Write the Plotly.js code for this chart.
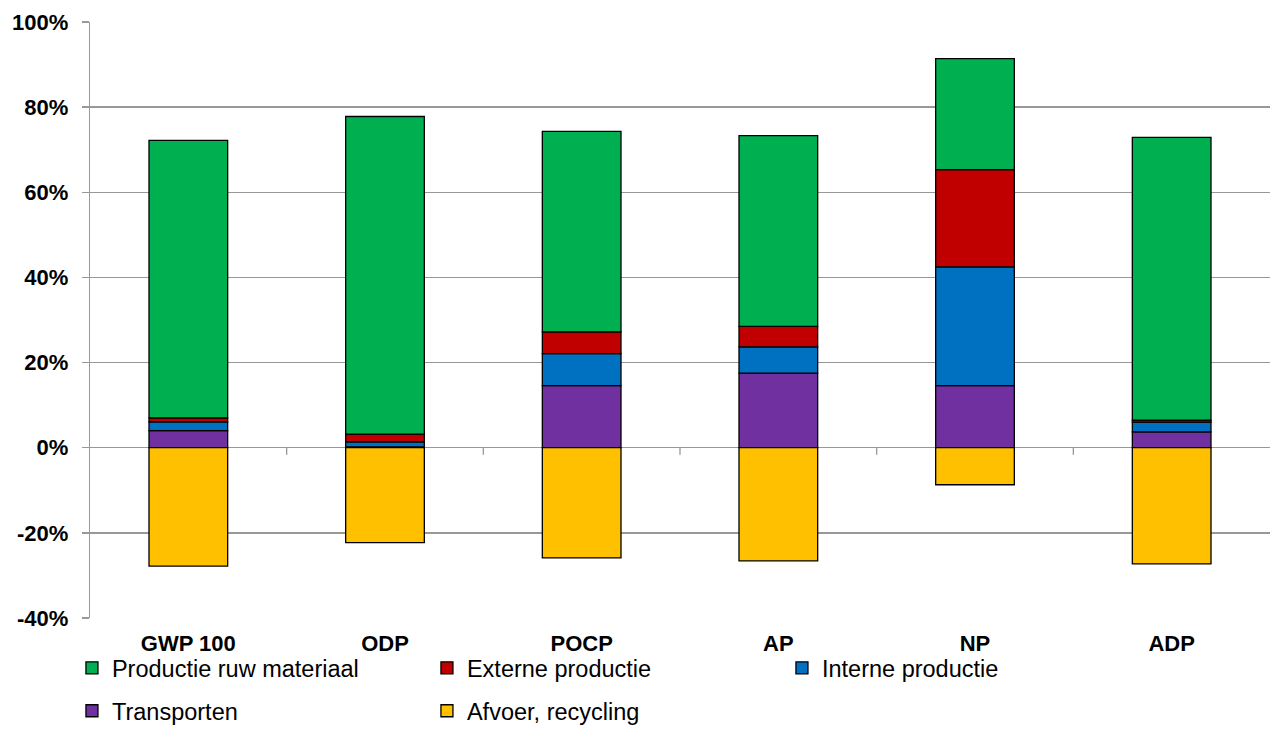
<!DOCTYPE html>
<html>
<head>
<meta charset="utf-8">
<script src="https://cdn.plot.ly/plotly-3.0.1.min.js"></script>
<style>html,body{margin:0;padding:0;background:#fff;}#chart{width:1270px;height:751px;}</style>
</head>
<body>
<div id="chart"></div>
<script>
const categories = ["GWP 100", "ODP", "POCP", "AP", "NP", "ADP"];
const transporten = [4.0, 0.2, 14.6, 17.5, 14.6, 3.7];
const interneProductie = [2.1, 1.2, 7.5, 6.2, 27.9, 2.3];
const externeProductie = [0.9, 1.8, 5.1, 4.8, 22.8, 0.5];
const productieRuwMateriaal = [65.2, 74.6, 47.1, 44.8, 26.1, 66.4];
const afvoerRecycling = [-27.8, -22.3, -25.9, -26.6, -8.7, -27.3];
const yTickVals = [-40, -20, 0, 20, 40, 60, 80, 100];
const yTickText = ["-40%", "-20%", "0%", "20%", "40%", "60%", "80%", "100%"];

const line = {color: "#000000", width: 1.3};
function bar(name, y, color, legend) {
  return {type: "bar", name: name, x: categories, y: y, legend: legend,
    marker: {color: color, line: line}, hovertemplate: "%{y}%<extra>" + name + "</extra>"};
}
const traces = [
  bar("Transporten", transporten, "#7030A0", "legend2"),
  bar("Interne productie", interneProductie, "#0070C0", "legend"),
  bar("Externe productie", externeProductie, "#C00000", "legend"),
  bar("Productie ruw materiaal", productieRuwMateriaal, "#00B050", "legend"),
  bar("Afvoer, recycling", afvoerRecycling, "#FFC000", "legend2")
];

const shapes = [];
for (let i = 0; i < categories.length - 1; i++) {
  shapes.push({type: "line", xref: "x", yref: "y", x0: i + 0.5, x1: i + 0.5,
    ysizemode: "pixel", yanchor: 0, y0: 0, y1: -7,
    line: {color: "#989898", width: 1.3}});
}

const FAM = "Liberation Sans, Arial, sans-serif";
const legendFont = {family: FAM, size: 23.5, color: "#000"};
const layout = {
  width: 1270, height: 751,
  margin: {l: 90, r: 0, t: 22, b: 133},
  barmode: "relative",
  bargap: 0.6,
  paper_bgcolor: "#fff", plot_bgcolor: "#fff",
  font: {family: FAM, color: "#000"},
  xaxis: {type: "category", showline: false, showgrid: false, ticks: "",
    tickfont: {size: 22, weight: "bold", family: FAM},
    ticklabelstandoff: 10, fixedrange: true},
  yaxis: {range: [-40, 100], tickvals: yTickVals, ticktext: yTickText,
    showgrid: true, gridcolor: "#989898", gridwidth: 1.3,
    zeroline: true, zerolinecolor: "#989898", zerolinewidth: 1.3,
    showline: true, linecolor: "#989898", linewidth: 1.3,
    ticks: "outside", ticklen: 7, tickcolor: "#989898", tickwidth: 1.3,
    tickfont: {size: 22, weight: "bold", family: FAM},
    ticklabelstandoff: 9, fixedrange: true},
  legend: {orientation: "h", x: -0.0153, xanchor: "left", y: -0.084, yanchor: "middle",
    traceorder: "reversed", entrywidth: 310, entrywidthmode: "pixels",
    font: legendFont, itemwidth: 30, bgcolor: "rgba(0,0,0,0)"},
  legend2: {orientation: "h", x: -0.0153, xanchor: "left", y: -0.156, yanchor: "middle",
    traceorder: "normal", entrywidth: 310, entrywidthmode: "pixels",
    font: legendFont, itemwidth: 30, bgcolor: "rgba(0,0,0,0)"},
  shapes: shapes
};
Plotly.newPlot("chart", traces, layout, {displayModeBar: false, staticPlot: true});
</script>
</body>
</html>
